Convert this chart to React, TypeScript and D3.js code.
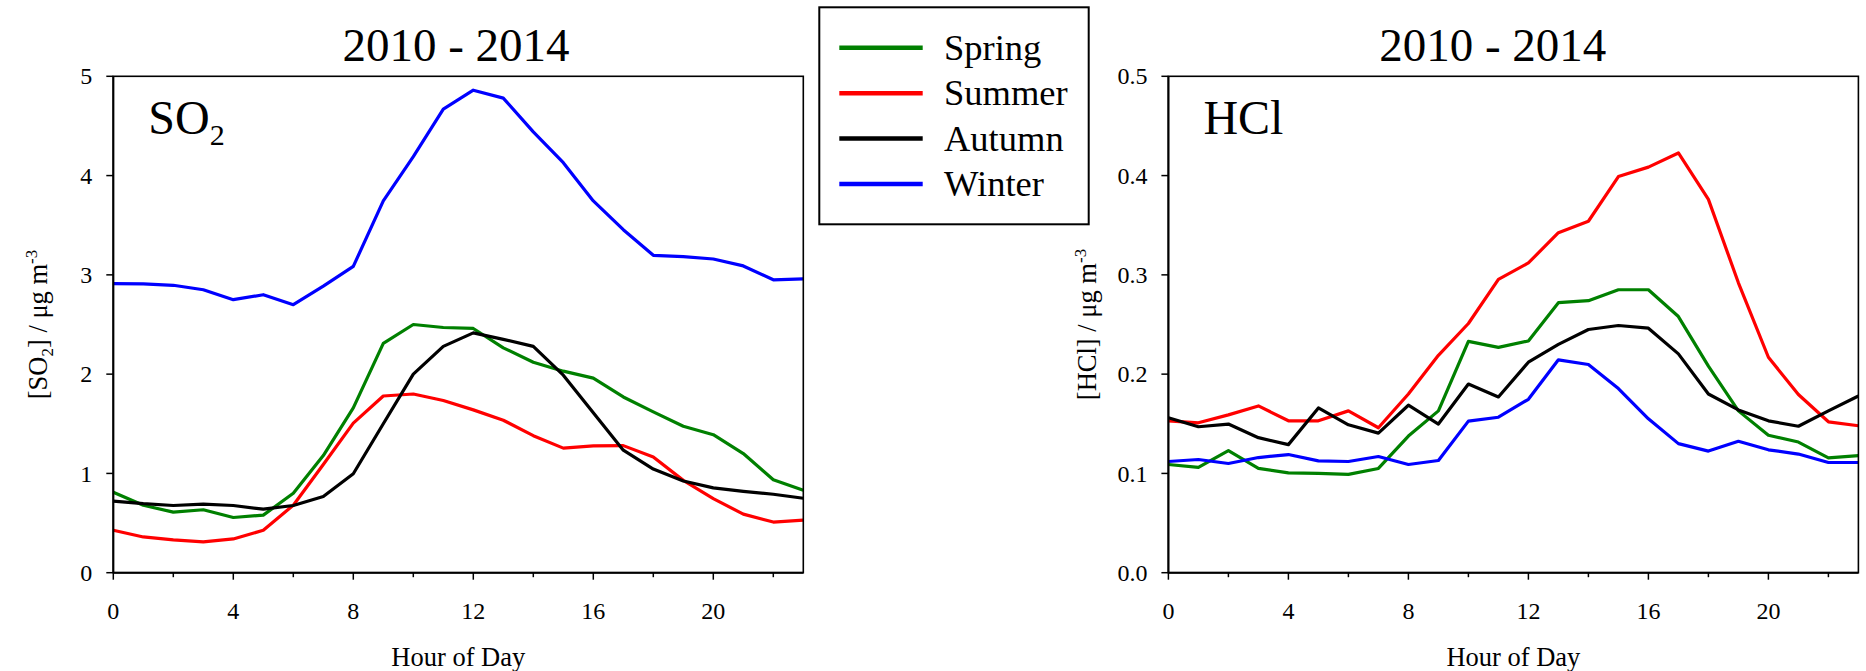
import React from "react";
import * as d3 from "d3";

const hours = d3.range(0, 24);
const seasons = ["Spring", "Summer", "Autumn", "Winter"];
const seasonColors = ["#008000", "#ff0000", "#000000", "#0000ff"];

const so2Spring = [0.81, 0.68, 0.61, 0.634, 0.556, 0.58, 0.8, 1.18, 1.66, 2.31, 2.5, 2.47, 2.46, 2.265, 2.12, 2.03, 1.96, 1.77, 1.62, 1.475, 1.39, 1.2, 0.936, 0.83];
const so2Summer = [0.427, 0.36, 0.33, 0.31, 0.34, 0.427, 0.68, 1.09, 1.506, 1.78, 1.8, 1.734, 1.64, 1.536, 1.38, 1.255, 1.277, 1.28, 1.165, 0.93, 0.746, 0.59, 0.51, 0.53];
const so2Autumn = [0.72, 0.695, 0.677, 0.69, 0.677, 0.64, 0.677, 0.768, 0.997, 1.5, 2.0, 2.28, 2.416, 2.35, 2.28, 1.99, 1.61, 1.234, 1.044, 0.923, 0.854, 0.82, 0.79, 0.75];
const so2Winter = [2.912, 2.91, 2.895, 2.85, 2.75, 2.8, 2.7, 2.886, 3.085, 3.745, 4.19, 4.67, 4.86, 4.78, 4.44, 4.13, 3.745, 3.455, 3.197, 3.184, 3.16, 3.09, 2.95, 2.96];

const hclSpring = [0.109, 0.106, 0.123, 0.105, 0.1005, 0.1, 0.099, 0.105, 0.1376, 0.163, 0.233, 0.227, 0.2334, 0.272, 0.274, 0.285, 0.285, 0.258, 0.208, 0.163, 0.1385, 0.1316, 0.1156, 0.118];
const hclSummer = [0.153, 0.151, 0.159, 0.168, 0.153, 0.153, 0.163, 0.146, 0.18, 0.219, 0.251, 0.2955, 0.312, 0.3425, 0.354, 0.399, 0.4085, 0.4228, 0.376, 0.292, 0.217, 0.1795, 0.152, 0.148];
const hclAutumn = [0.156, 0.147, 0.1497, 0.136, 0.129, 0.166, 0.149, 0.1406, 0.1687, 0.1497, 0.19, 0.177, 0.212, 0.23, 0.245, 0.249, 0.2463, 0.2204, 0.18, 0.164, 0.153, 0.1475, 0.163, 0.178];
const hclWinter = [0.112, 0.114, 0.11, 0.116, 0.119, 0.1126, 0.112, 0.117, 0.109, 0.113, 0.1527, 0.1566, 0.1747, 0.2144, 0.2097, 0.1855, 0.155, 0.13, 0.1225, 0.1324, 0.1238, 0.1195, 0.111, 0.111];

const xMajorTicks = [0, 4, 8, 12, 16, 20];
const xMinorTicks = [2, 6, 10, 14, 18, 22];
const so2Ticks = [0, 1, 2, 3, 4, 5];
const hclTicks = [0, 0.1, 0.2, 0.3, 0.4, 0.5];
const titleText = "2010 - 2014";
const xLabel = "Hour of Day";

const FONT = "'Liberation Serif', 'Times New Roman', serif";

type PanelProps = {
  x0: number;
  x1: number;
  yMax: number;
  yTicks: number[];
  fmt: (v: number) => string;
  series: number[][];
  titleX: number;
  species: "SO2" | "HCl";
  yLabelX: number;
};

function Panel({ x0, x1, yMax, yTicks, fmt, series, titleX, species, yLabelX }: PanelProps) {
  const top = 76.3;
  const bottom = 572.7;
  const x = d3.scaleLinear().domain([0, 23]).range([x0, x1]);
  const y = d3.scaleLinear().domain([0, yMax]).range([bottom, top]);
  const line = d3
    .line<number>()
    .x((_, i) => x(hours[i]))
    .y((d) => y(d));
  const midY = (top + bottom) / 2;
  return (
    <g>
      <text x={titleX} y={60.7} textAnchor="middle" fontSize={47} fontFamily={FONT}>
        {titleText}
      </text>
      {series.map((s, i) => (
        <path
          key={i}
          d={line(s) || ""}
          fill="none"
          stroke={seasonColors[i]}
          strokeWidth={3.2}
          strokeLinejoin="round"
        />
      ))}
      <rect x={x0} y={top} width={x1 - x0} height={bottom - top} fill="none" stroke="#000" strokeWidth={1.6} />
      <line x1={x0} x2={x0} y1={top} y2={bottom} stroke="#000" strokeWidth={2} />
      <line x1={x0} x2={x1} y1={bottom} y2={bottom} stroke="#000" strokeWidth={2} />
      {yTicks.map((t) => (
        <g key={"y" + t}>
          <line x1={x0 - 7} x2={x0} y1={y(t)} y2={y(t)} stroke="#000" strokeWidth={1.5} />
          <text x={x0 - 21} y={y(t)} dy="0.34em" textAnchor="end" fontSize={24} fontFamily={FONT}>
            {fmt(t)}
          </text>
        </g>
      ))}
      {xMajorTicks.map((t) => (
        <g key={"x" + t}>
          <line x1={x(t)} x2={x(t)} y1={bottom} y2={bottom + 7} stroke="#000" strokeWidth={1.5} />
          <text x={x(t)} y={618.5} textAnchor="middle" fontSize={24} fontFamily={FONT}>
            {t}
          </text>
        </g>
      ))}
      {xMinorTicks.map((t) => (
        <line key={"m" + t} x1={x(t)} x2={x(t)} y1={bottom} y2={bottom + 4.5} stroke="#000" strokeWidth={1.5} />
      ))}
      <text x={(x0 + x1) / 2} y={666} textAnchor="middle" fontSize={26.5} fontFamily={FONT}>
        {xLabel}
      </text>
      <text
        transform={`translate(${yLabelX},${midY}) rotate(-90)`}
        textAnchor="middle"
        fontSize={26.5}
        fontFamily={FONT}
      >
        {species === "SO2" ? (
          <>
            <tspan>[SO</tspan>
            <tspan fontSize={17} dy={6}>2</tspan>
            <tspan dy={-6}>] / μg m</tspan>
            <tspan fontSize={17} dy={-10}>-3</tspan>
          </>
        ) : (
          <>
            <tspan>[HCl] / μg m</tspan>
            <tspan fontSize={17} dy={-10}>-3</tspan>
          </>
        )}
      </text>
      <text x={x0 + 35} y={134} fontSize={48} fontFamily={FONT}>
        {species === "SO2" ? (
          <>
            <tspan>SO</tspan>
            <tspan fontSize={30} dy={11}>2</tspan>
          </>
        ) : (
          <tspan>HCl</tspan>
        )}
      </text>
    </g>
  );
}

function Legend() {
  const boxX = 819.3;
  const boxY = 7.3;
  const ly = d3.scaleLinear().domain([0, 3]).range([47.7, 184]);
  return (
    <g>
      <rect x={boxX} y={boxY} width={1088.7 - boxX} height={224.3 - boxY} fill="#fff" stroke="#000" strokeWidth={2} />
      {seasons.map((s, i) => (
        <g key={s}>
          <line x1={839.3} x2={922.7} y1={ly(i)} y2={ly(i)} stroke={seasonColors[i]} strokeWidth={4.5} />
          <text x={944} y={ly(i) + 12} fontSize={36.5} fontFamily={FONT}>
            {s}
          </text>
        </g>
      ))}
    </g>
  );
}

export default function App() {
  return (
    <svg
      width={1866}
      height={671}
      viewBox="0 0 1866 671"
      style={{ position: "absolute", left: 0, top: 0, background: "#fff" }}
    >
      <rect x={0} y={0} width={1866} height={671} fill="#fff" />
      <Panel
        x0={113.3}
        x1={803.3}
        yMax={5}
        yTicks={so2Ticks}
        fmt={(v) => d3.format("d")(v)}
        series={[so2Spring, so2Summer, so2Autumn, so2Winter]}
        titleX={456}
        species="SO2"
        yLabelX={47}
      />
      <Panel
        x0={1168.4}
        x1={1858.4}
        yMax={0.5}
        yTicks={hclTicks}
        fmt={(v) => d3.format(".1f")(v)}
        series={[hclSpring, hclSummer, hclAutumn, hclWinter]}
        titleX={1492.8}
        species="HCl"
        yLabelX={1096}
      />
      <Legend />
    </svg>
  );
}
